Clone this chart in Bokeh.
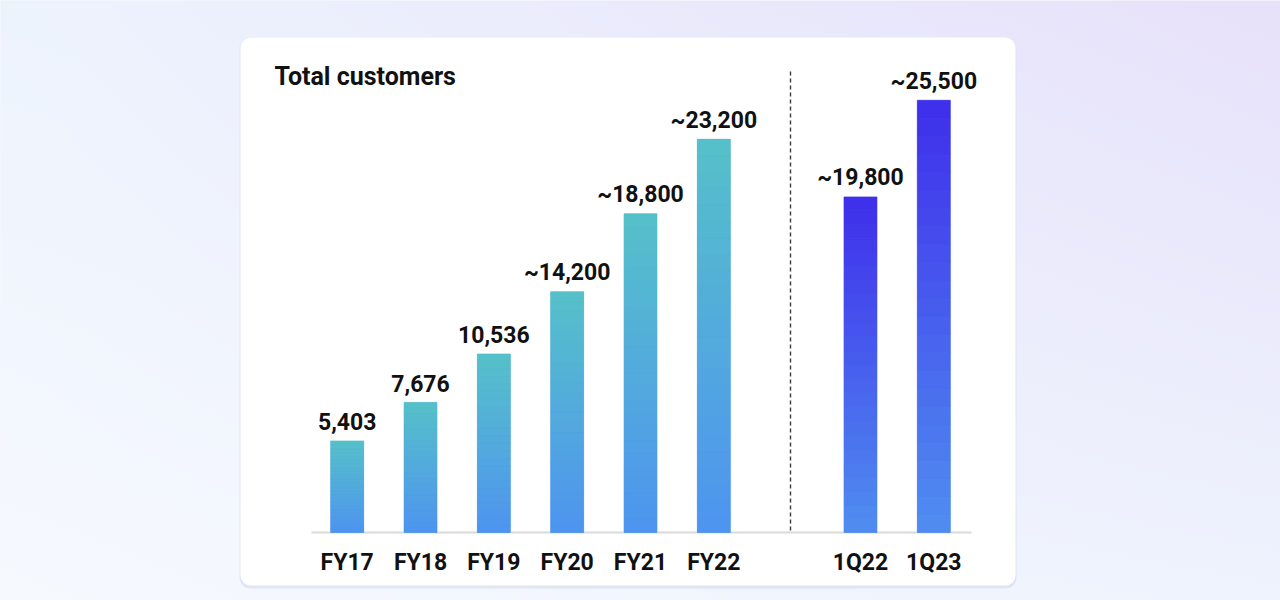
import numpy as np
from bokeh.plotting import figure
from bokeh.models import FactorRange, Range1d, BoxAnnotation, ColumnDataSource
from bokeh.core.properties import value
from bokeh.embed import file_html
from bokeh.resources import INLINE

# ---- data ----
categories_fy = ["FY17", "FY18", "FY19", "FY20", "FY21", "FY22"]
values_fy = [5403, 7676, 10536, 14200, 18800, 23200]
approx_fy = [False, False, False, True, True, True]

categories_q = ["1Q22", "1Q23"]
values_q = [19800, 25500]
approx_q = [True, True]

title_text = "Total customers"
gap_factor = " "

def fmt(v, a):
    return ("~" if a else "") + f"{v:,}"

labels_fy = [fmt(v, a) for v, a in zip(values_fy, approx_fy)]
labels_q = [fmt(v, a) for v, a in zip(values_q, approx_q)]

W, H = 1280, 600
FONT = "Roboto"

factors = categories_fy + [gap_factor] + categories_q
PAD = 4.228
x_range = FactorRange(factors=factors, range_padding=PAD, range_padding_units="absolute")
Y0, Y1 = -4012, 31386
y_range = Range1d(Y0, Y1)

# helpers: pixel positions (x from left, y from top) -> range coords
X0 = -PAD
XSPAN = len(factors) + 2 * PAD
def fx(px):
    return X0 + px * XSPAN / W
def fy(py_top):
    return Y0 + (H - py_top) * (Y1 - Y0) / H

p = figure(width=W, height=H, x_range=x_range, y_range=y_range,
           output_backend="svg", toolbar_location=None,
           min_border=0, x_axis_location=None, y_axis_location=None)
p.grid.visible = False
p.outline_line_color = None
p.background_fill_color = "#eef2fc"
p.border_fill_color = "#eef2fc"

# ---- background gradient ----
gh, gw = 75, 160
gx = (np.arange(gw) + 0.5) / gw
gy = 1 - (np.arange(gh) + 0.5) / gh  # 0 top, 1 bottom
GX, GY = np.meshgrid(gx, gy)
TL = np.array([237, 243, 253]); TR = np.array([231, 225, 250])
BL = np.array([246, 249, 254]); BR = np.array([238, 243, 253])
col = ((1 - GX)[..., None] * (1 - GY)[..., None] * TL + GX[..., None] * (1 - GY)[..., None] * TR
       + (1 - GX)[..., None] * GY[..., None] * BL + GX[..., None] * GY[..., None] * BR)
img = np.empty((gh, gw), dtype=np.uint32)
view = img.view(dtype=np.uint8).reshape((gh, gw, 4))
view[..., 0] = col[..., 0].round().astype(np.uint8)
view[..., 1] = col[..., 1].round().astype(np.uint8)
view[..., 2] = col[..., 2].round().astype(np.uint8)
view[..., 3] = 255
bg = p.image_rgba(image=[img], x=fx(0), y=fy(H), dw=XSPAN, dh=Y1 - Y0)
bg.level = "image"

# ---- card ----
shadow = BoxAnnotation(left=fx(239), right=fx(1016), bottom=fy(588), top=fy(37),
                       fill_color="#d8def0", fill_alpha=0.7, line_color=None, border_radius=11,
                       level="underlay")
card = BoxAnnotation(left=fx(240), right=fx(1015), bottom=fy(585), top=fy(37),
                     fill_color="white", fill_alpha=1.0, line_color=None, border_radius=10,
                     level="underlay")
p.add_layout(shadow)
p.add_layout(card)

# ---- title ----
p.text(x=[fx(274)], y=[fy(76)], text=[title_text],
       text_font=value(FONT), text_font_style="bold", text_font_size="25px",
       text_color="#111111", text_align="left", text_baseline="alphabetic")

# ---- divider & baseline ----
p.segment(x0=[fx(790)], x1=[fx(790)], y0=[fy(530)], y1=[fy(68)],
          line_color="#3a3a3a", line_width=1.4, line_dash="4 3")
p.segment(x0=[fx(311)], x1=[fx(971)], y0=[0], y1=[0],
          line_color="#d9d9d9", line_width=2)

# ---- bars ----
BW = 0.45
def bars(cats, vals, c_bottom, c_top, n=24):
    vals = np.array(vals, dtype=float)
    p.vbar(x=cats, top=vals, bottom=0, width=BW, fill_color="#%02x%02x%02x" % c_bottom, line_color=None)
    cb = np.array(c_bottom); ct = np.array(c_top)
    xs, bots, tops, cols = [], [], [], []
    for k in range(n):
        t = (k + 0.5) / n
        c = cb + (ct - cb) * t
        hexc = "#%02x%02x%02x" % tuple(int(round(v)) for v in c)
        for cat, v in zip(cats, vals):
            xs.append(cat); bots.append(v * k / n); tops.append(v * (k + 1) / n); cols.append(hexc)
    src = ColumnDataSource(dict(x=xs, bottom=bots, top=tops, color=cols))
    p.vbar(x="x", bottom="bottom", top="top", width=BW, fill_color="color", line_color="color",
           line_width=0.6, source=src)

bars(categories_fy, values_fy, (78, 148, 240), (86, 193, 201))
bars(categories_q, values_q, (80, 142, 240), (63, 46, 235))

# ---- value labels ----
for cats, vals, labs in ((categories_fy, values_fy, labels_fy), (categories_q, values_q, labels_q)):
    p.text(x=cats, y=vals, text=labs, text_font=value(FONT), text_font_style="bold",
           text_font_size="23px", text_color="#111111", text_align="center",
           text_baseline="alphabetic", y_offset=-19)

# ---- category labels ----
all_cats = categories_fy + categories_q
p.text(x=all_cats, y=[0] * len(all_cats), text=all_cats, text_font=value(FONT),
       text_font_style="bold", text_font_size="23px", text_color="#111111",
       text_align="center", text_baseline="alphabetic", y_offset=30)

open("out.html", "w").write(file_html(p, INLINE))
